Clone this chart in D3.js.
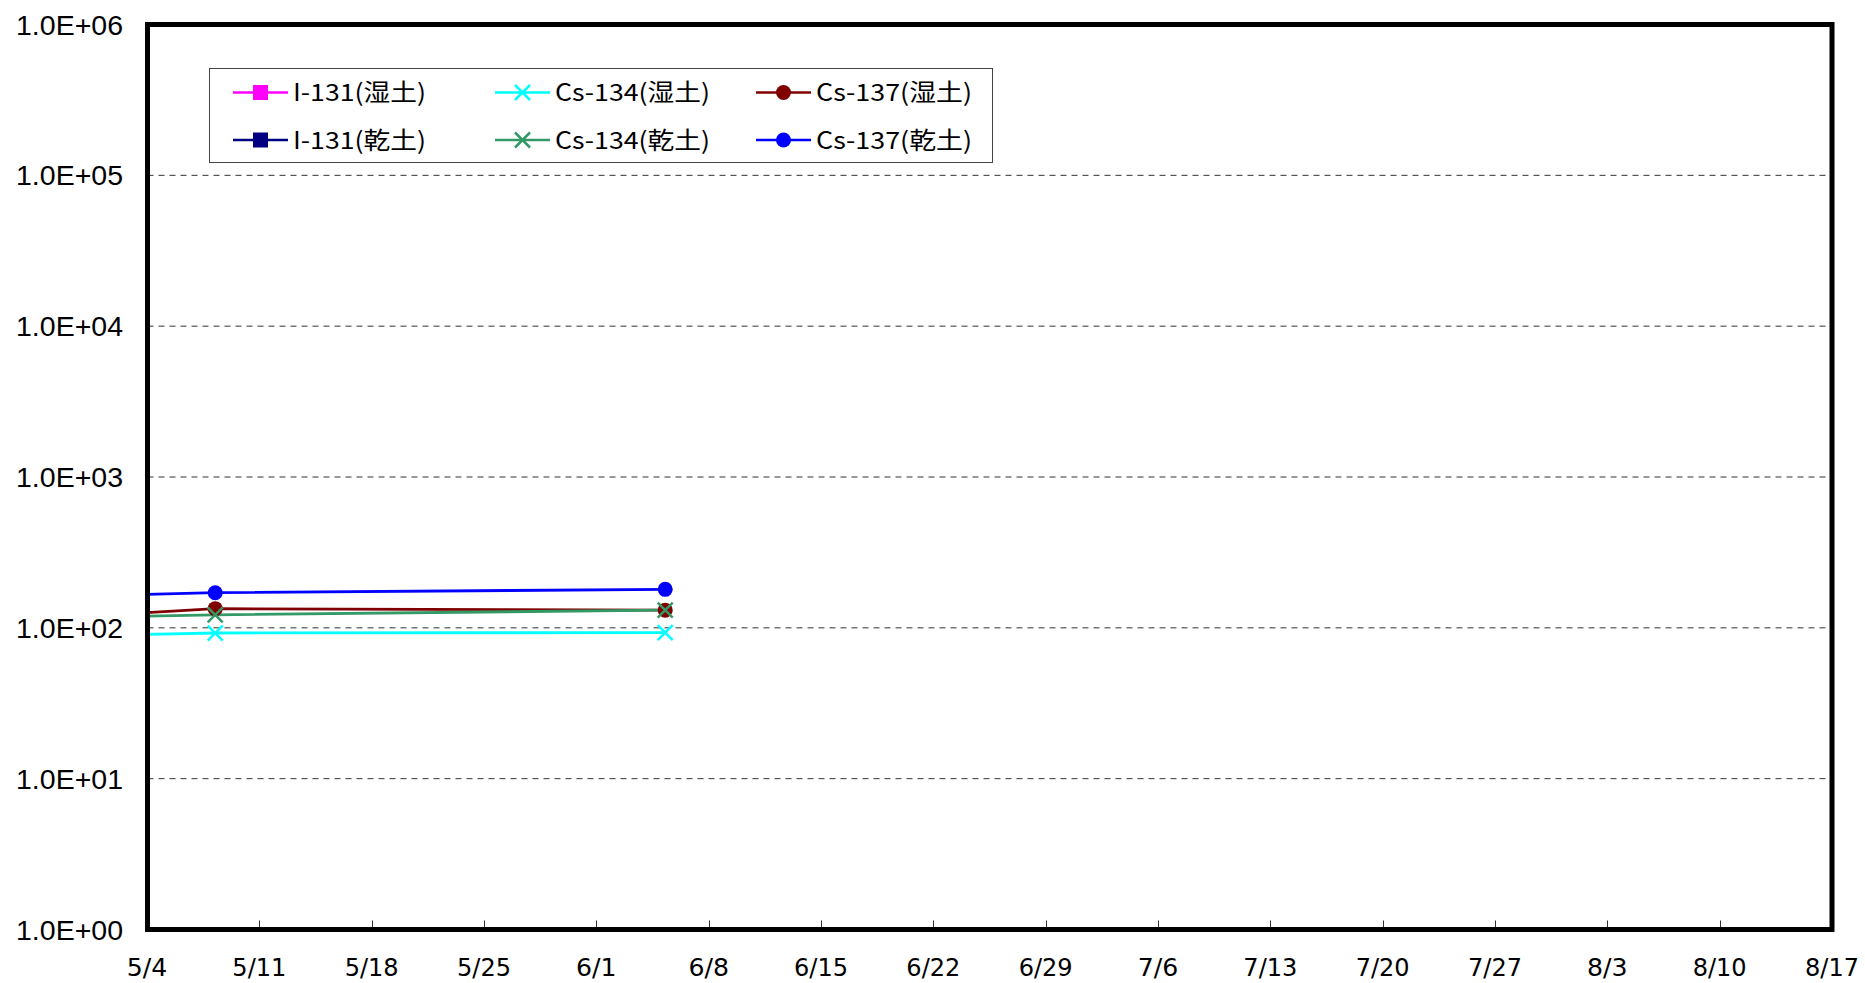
<!DOCTYPE html>
<html>
<head>
<meta charset="utf-8">
<script src="https://cdn.jsdelivr.net/npm/d3@7"></script>
<style>
  html, body { margin: 0; padding: 0; background: #fff; }
  svg { display: block; }
</style>
</head>
<body>
<svg id="chart" width="1865" height="983"></svg>
<script>
// ---------------- data ----------------
const sampleDates = ["2011-04-10T06:00", "2011-05-08T06:00", "2011-06-05T07:00"];
const seriesNames = ["I-131(湿土)", "I-131(乾土)", "Cs-134(湿土)", "Cs-134(乾土)", "Cs-137(湿土)", "Cs-137(乾土)"];
const i131Wet  = [null, null, null];
const i131Dry  = [null, null, null];
const cs134Wet = [81, 92.4, 93];
const cs134Dry = [106, 122, 131];
const cs137Wet = [90, 134, 131];
const cs137Dry = [144, 171, 180];
const xTickLabels = ["5/4","5/11","5/18","5/25","6/1","6/8","6/15","6/22","6/29","7/6","7/13","7/20","7/27","8/3","8/10","8/17"];
const yTickValues = [1, 10, 100, 1000, 10000, 100000, 1000000];
const yTickLabels = ["1.0E+00","1.0E+01","1.0E+02","1.0E+03","1.0E+04","1.0E+05","1.0E+06"];
const year = 2011;

// ---------------- styles ----------------
const seriesStyle = [
  { values: i131Wet,  color: "#FF00FF", marker: "square" },
  { values: i131Dry,  color: "#000080", marker: "square" },
  { values: cs134Wet, color: "#00FFFF", marker: "x" },
  { values: cs134Dry, color: "#339966", marker: "x" },
  { values: cs137Wet, color: "#800000", marker: "circle" },
  { values: cs137Dry, color: "#0000FF", marker: "circle" }
];
const drawOrder = [0, 1, 4, 2, 3, 5];

const L = 147.5, R = 1832, T = 24.5, B = 929.5;
const parseTick = s => { const [m, d] = s.split("/").map(Number); return new Date(year, m - 1, d); };
const tickDates = xTickLabels.map(parseTick);
const dates = sampleDates.map(s => new Date(s));

const x = d3.scaleTime().domain([tickDates[0], tickDates[tickDates.length - 1]]).range([147, 1832]);
const y = d3.scaleLog().domain([1, 1e6]).range([B, T]);

const svg = d3.select("#chart");

svg.append("defs").append("clipPath").attr("id", "plotclip")
  .append("rect").attr("x", L).attr("y", T).attr("width", R - L).attr("height", B - T);

// gridlines
svg.append("g").selectAll("line")
  .data(yTickValues.slice(1, -1))
  .join("line")
  .attr("x1", L).attr("x2", R)
  .attr("y1", d => y(d)).attr("y2", d => y(d))
  .attr("stroke", "#333").attr("stroke-width", 1).attr("stroke-dasharray", "6,5");

// bottom inside ticks
svg.append("g").selectAll("line")
  .data(tickDates.slice(1, -1))
  .join("line")
  .attr("x1", d => Math.round(x(d)) + 0.5).attr("x2", d => Math.round(x(d)) + 0.5)
  .attr("y1", B).attr("y2", B - 9)
  .attr("stroke", "#333").attr("stroke-width", 1);

// y labels
svg.append("g").selectAll("text")
  .data(yTickValues)
  .join("text")
  .attr("x", 123).attr("y", d => y(d))
  .attr("text-anchor", "end").attr("dominant-baseline", "central")
  .attr("font-family", "'Liberation Sans', Arial, sans-serif").attr("font-size", 28.5)
  .attr("fill", "#000")
  .text((d, i) => yTickLabels[i]);

// x labels
svg.append("g").selectAll("text")
  .data(tickDates)
  .join("text")
  .attr("x", d => x(d)).attr("y", 967)
  .attr("text-anchor", "middle").attr("dominant-baseline", "central")
  .attr("font-family", "'DejaVu Sans', sans-serif").attr("font-size", 25)
  .attr("textLength", (d, i) => xTickLabels[i].length * 13.5)
  .attr("lengthAdjust", "spacingAndGlyphs")
  .attr("fill", "#000")
  .text((d, i) => xTickLabels[i]);

// marker drawing helper
function drawMarker(g, type, cx, cy, color, size) {
  const h = size / 2;
  if (type === "circle") {
    g.append("circle").attr("cx", cx).attr("cy", cy).attr("r", h).attr("fill", color);
  } else if (type === "square") {
    g.append("rect").attr("x", cx - h).attr("y", cy - h).attr("width", size).attr("height", size).attr("fill", color);
  } else if (type === "x") {
    g.append("path")
      .attr("d", `M${cx - h},${cy - h}L${cx + h},${cy + h}M${cx - h},${cy + h}L${cx + h},${cy - h}`)
      .attr("stroke", color).attr("stroke-width", 2.5).attr("fill", "none");
  }
}

// series
const plot = svg.append("g").attr("clip-path", "url(#plotclip)");
const lineGen = d3.line()
  .defined(d => d.v != null)
  .x(d => x(d.date))
  .y(d => y(d.v));

drawOrder.forEach(si => {
  const s = seriesStyle[si];
  const pts = dates.map((dt, i) => ({ date: dt, v: s.values[i] }));
  plot.append("path").datum(pts)
    .attr("d", lineGen)
    .attr("fill", "none").attr("stroke", s.color).attr("stroke-width", 2.8);
});
drawOrder.forEach(si => {
  const s = seriesStyle[si];
  const g = plot.append("g");
  dates.forEach((dt, i) => {
    const v = s.values[i];
    if (v == null) return;
    drawMarker(g, s.marker, x(dt), y(v), s.color, 15);
  });
});

// frame
svg.append("rect")
  .attr("x", L).attr("y", T).attr("width", R - L).attr("height", B - T)
  .attr("fill", "none").attr("stroke", "#000").attr("stroke-width", 5);

// legend
const lg = svg.append("g");
lg.append("rect").attr("x", 209.5).attr("y", 68.5).attr("width", 783).attr("height", 94)
  .attr("fill", "#fff").attr("stroke", "#444").attr("stroke-width", 1);
const colX = [233, 495, 756];
const rowY = [92.5, 140];
const textW = [133, 133, 155, 155, 156, 156];
seriesStyle.forEach((s, i) => {
  const col = Math.floor(i / 2), row = i % 2;
  const x0 = colX[col], yy = rowY[row];
  lg.append("line").attr("x1", x0).attr("x2", x0 + 55).attr("y1", yy).attr("y2", yy)
    .attr("stroke", s.color).attr("stroke-width", 2.5);
  drawMarker(lg, s.marker, x0 + 27.5, yy, s.color, 15);
  lg.append("text")
    .attr("x", x0 + 60).attr("y", yy - 2)
    .attr("dominant-baseline", "central")
    .attr("font-family", "'Noto Sans CJK JP', sans-serif").attr("font-size", 24)
    .attr("textLength", textW[i]).attr("lengthAdjust", "spacingAndGlyphs")
    .attr("fill", "#000")
    .text(seriesNames[i]);
});
</script>
</body>
</html>
